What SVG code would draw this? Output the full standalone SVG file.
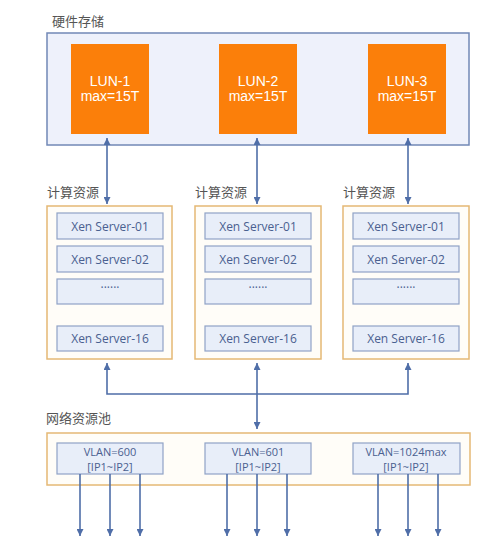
<svg xmlns="http://www.w3.org/2000/svg" width="500" height="551" viewBox="0 0 500 551">
<defs>
<marker id="ah" viewBox="0 0 10 10" refX="10" refY="5" markerWidth="7" markerHeight="7" markerUnits="userSpaceOnUse" orient="auto-start-reverse">
<path d="M0,0 L10,5 L0,10 Z" fill="#4f6ea8"/>
</marker>
</defs>
<style>
.lbl{font-family:"Noto Sans CJK SC","Noto Sans",sans-serif;font-size:13px;fill:#555555}
.lun{fill:#fb7f0a}
.luntxt{font-family:"Liberation Sans",Arial,sans-serif;font-size:14px;fill:#ffffff;text-anchor:middle}
.grp{fill:#fffdf8;stroke:#e5b874;stroke-width:1.5}
.item{fill:#e8eef9;stroke:#8fa2c6;stroke-width:1.2}
.itxt{font-family:"Open Sans","DejaVu Sans",sans-serif;font-size:12px;fill:#4a6090;text-anchor:middle}
.vtxt{font-family:"Open Sans","DejaVu Sans",sans-serif;font-size:11px;fill:#4a6090;text-anchor:middle}
.con{stroke:#4f6ea8;stroke-width:1.6;fill:none}
</style>
<rect width="500" height="551" fill="#ffffff"/>

<g id="storage">
<text class="lbl" x="52" y="26">硬件存储</text>
<rect x="47" y="33" width="422" height="112" fill="#eef1fb" stroke="#7288b6" stroke-width="1.5"/>
</g>
<g id="lun1">
<rect class="lun" x="71" y="44" width="78" height="90"/>
<text class="luntxt" x="110" y="86">LUN-1</text>
<text class="luntxt" x="110" y="101">max=15T</text>
</g>
<g id="lun2">
<rect class="lun" x="219" y="44" width="78" height="90"/>
<text class="luntxt" x="258" y="86">LUN-2</text>
<text class="luntxt" x="258" y="101">max=15T</text>
</g>
<g id="lun3">
<rect class="lun" x="368" y="44" width="78" height="90"/>
<text class="luntxt" x="407" y="86">LUN-3</text>
<text class="luntxt" x="407" y="101">max=15T</text>
</g>

<g id="compute1">
<text class="lbl" x="47" y="197">计算资源</text>
<rect class="grp" x="47" y="206" width="125" height="153"/>
<rect class="item" x="57" y="213" width="106" height="26"/>
<text class="itxt" x="110" y="231">Xen Server-01</text>
<rect class="item" x="57" y="246" width="106" height="26"/>
<text class="itxt" x="110" y="264">Xen Server-02</text>
<rect class="item" x="57" y="279" width="106" height="25"/>
<text class="itxt" x="110" y="292" font-size="9">······</text>
<rect class="item" x="57" y="326" width="106" height="25"/>
<text class="itxt" x="110" y="343">Xen Server-16</text>
</g>
<g id="compute2">
<text class="lbl" x="195" y="197">计算资源</text>
<rect class="grp" x="195" y="206" width="126" height="153"/>
<rect class="item" x="205" y="213" width="106" height="26"/>
<text class="itxt" x="258" y="231">Xen Server-01</text>
<rect class="item" x="205" y="246" width="106" height="26"/>
<text class="itxt" x="258" y="264">Xen Server-02</text>
<rect class="item" x="205" y="279" width="106" height="25"/>
<text class="itxt" x="258" y="292" font-size="9">······</text>
<rect class="item" x="205" y="326" width="106" height="25"/>
<text class="itxt" x="258" y="343">Xen Server-16</text>
</g>
<g id="compute3">
<text class="lbl" x="343" y="197">计算资源</text>
<rect class="grp" x="343" y="206" width="126" height="153"/>
<rect class="item" x="353" y="213" width="106" height="26"/>
<text class="itxt" x="406" y="231">Xen Server-01</text>
<rect class="item" x="353" y="246" width="106" height="26"/>
<text class="itxt" x="406" y="264">Xen Server-02</text>
<rect class="item" x="353" y="279" width="106" height="25"/>
<text class="itxt" x="406" y="292" font-size="9">······</text>
<rect class="item" x="353" y="326" width="106" height="25"/>
<text class="itxt" x="406" y="343">Xen Server-16</text>
</g>

<g id="network">
<text class="lbl" x="46" y="423">网络资源池</text>
<rect class="grp" x="47" y="433" width="423" height="52"/>
</g>
<g id="vlan600">
<rect class="item" x="57" y="443" width="106" height="31"/>
<text class="vtxt" x="110" y="455.5">VLAN=600</text>
<text class="vtxt" x="110" y="470.5">[IP1~IP2]</text>
</g>
<g id="vlan601">
<rect class="item" x="205" y="443" width="106" height="31"/>
<text class="vtxt" x="258" y="455.5">VLAN=601</text>
<text class="vtxt" x="258" y="470.5">[IP1~IP2]</text>
</g>
<g id="vlan1024">
<rect class="item" x="353" y="443" width="107" height="31"/>
<text class="vtxt" x="406" y="455.5">VLAN=1024max</text>
<text class="vtxt" x="406" y="470.5">[IP1~IP2]</text>
</g>

<g id="connectors">
<line class="con" x1="107" y1="138" x2="107" y2="204" marker-start="url(#ah)" marker-end="url(#ah)"/>
<line class="con" x1="257" y1="138" x2="257" y2="204" marker-start="url(#ah)" marker-end="url(#ah)"/>
<line class="con" x1="408" y1="138" x2="408" y2="204" marker-start="url(#ah)" marker-end="url(#ah)"/>
<path class="con" d="M107,363 V394 H408 V363" marker-start="url(#ah)" marker-end="url(#ah)"/>
<line class="con" x1="257" y1="363" x2="257" y2="429" marker-start="url(#ah)" marker-end="url(#ah)"/>
<line class="con" x1="80" y1="474" x2="80" y2="536" marker-end="url(#ah)"/>
<line class="con" x1="110" y1="474" x2="110" y2="536" marker-end="url(#ah)"/>
<line class="con" x1="140" y1="474" x2="140" y2="536" marker-end="url(#ah)"/>
<line class="con" x1="227" y1="474" x2="227" y2="536" marker-end="url(#ah)"/>
<line class="con" x1="257" y1="474" x2="257" y2="536" marker-end="url(#ah)"/>
<line class="con" x1="287" y1="474" x2="287" y2="536" marker-end="url(#ah)"/>
<line class="con" x1="378" y1="474" x2="378" y2="536" marker-end="url(#ah)"/>
<line class="con" x1="408" y1="474" x2="408" y2="536" marker-end="url(#ah)"/>
<line class="con" x1="438" y1="474" x2="438" y2="536" marker-end="url(#ah)"/>
</g>
</svg>
